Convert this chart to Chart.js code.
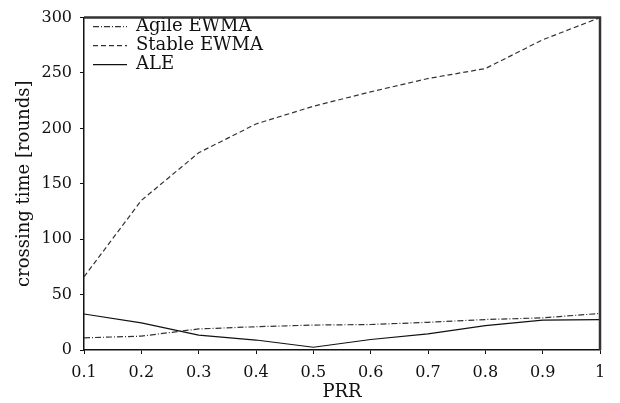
<!DOCTYPE html>
<html>
<head>
<meta charset="utf-8">
<script src="https://cdn.jsdelivr.net/npm/chart.js@4.4.0/dist/chart.umd.min.js"></script>
<style>
  body { margin: 0; background: #fff; }
  #wrap { width: 620px; height: 403px; }
</style>
</head>
<body>
<div id="wrap"><canvas id="crossing"></canvas></div>
<script>
const prr = ['0.1', '0.2', '0.3', '0.4', '0.5', '0.6', '0.7', '0.8', '0.9', '1'];
const agileEwma = [11, 12.5, 19, 21, 22.5, 23, 25, 27.5, 29, 33];
const stableEwma = [66, 135, 178, 204, 220, 233, 245, 254, 280, 300];
const ale = [32.5, 24.5, 13.5, 9, 2.5, 9.5, 14.5, 22, 27, 27.5];
const yTicks = [0, 50, 100, 150, 200, 250, 300];

const serif = "'DejaVu Serif', serif";

// top and right edges of the frame
const framePlugin = {
    id: 'frame',
    afterDraw(chart) {
        const { ctx, chartArea: a } = chart;
        ctx.save();
        ctx.strokeStyle = '#333';
        ctx.lineWidth = 2.5;
        ctx.beginPath();
        ctx.moveTo(a.left, a.top);
        ctx.lineTo(a.right, a.top);
        ctx.lineTo(a.right, a.bottom);
        ctx.stroke();
        ctx.restore();
    }
};

// put the legend in the top left corner of the plot
const legendNudge = {
    id: 'legendNudge',
    afterLayout(chart) {
        chart.legend.left = chart.chartArea.left + 8;
        chart.legend.top = chart.chartArea.top - 1;
    }
};

function line(label, data, dash, color) {
    return {
        label: label,
        data: data,
        borderColor: color,
        backgroundColor: color,
        borderWidth: 1.2,
        borderDash: dash,
        pointRadius: 0,
        tension: 0,
        fill: false
    };
}

const ctx = document.getElementById('crossing').getContext('2d');
new Chart(ctx, {
    type: 'line',
    data: {
        labels: prr,
        datasets: [
            line('Agile EWMA', agileEwma, [6, 2, 1, 2], '#333'),
            line('Stable EWMA', stableEwma, [5, 3], '#333'),
            line('ALE', ale, [], '#111')
        ]
    },
    options: {
        responsive: true,
        maintainAspectRatio: false,
        animation: false,
        layout: { padding: { top: 13, right: 20, left: 0, bottom: 0 } },
        plugins: {
            tooltip: { enabled: false },
            legend: {
                position: 'chartArea',
                align: 'start',
                labels: {
                    usePointStyle: true,
                    pointStyle: 'line',
                    pointStyleWidth: 34,
                    boxHeight: 18,
                    padding: 1,
                    color: '#111',
                    font: { family: serif, size: 18 },
                    generateLabels(chart) {
                        const items = Chart.defaults.plugins.legend.labels.generateLabels(chart);
                        items.forEach((it, i) => {
                            const ds = chart.data.datasets[i];
                            it.lineDash = ds.borderDash;
                            it.strokeStyle = ds.borderColor;
                            it.lineWidth = ds.borderWidth;
                        });
                        return items;
                    }
                }
            }
        },
        scales: {
            x: {
                type: 'category',
                offset: false,
                afterFit: s => { s.height = 53; },
                border: { display: true, color: '#111', width: 1.5 },
                grid: { drawOnChartArea: false, drawTicks: true, tickLength: 4, color: '#111', offset: false },
                ticks: { color: '#111', padding: 9, maxRotation: 0, font: { family: serif, size: 16 } },
                title: { display: true, text: 'PRR', color: '#111', padding: { top: 0, bottom: 0 }, font: { family: serif, size: 18 } }
            },
            y: {
                min: 0,
                max: 300,
                afterFit: s => { s.width = 84; },
                afterBuildTicks: s => { s.ticks = yTicks.map(v => ({ value: v })); },
                border: { display: true, color: '#111', width: 1.5 },
                grid: { drawOnChartArea: false, drawTicks: true, tickLength: 4, color: '#111' },
                ticks: { color: '#111', padding: 8, font: { family: serif, size: 16 } },
                title: { display: true, text: 'crossing time [rounds]', color: '#111', padding: { top: 14, bottom: 0 }, font: { family: serif, size: 18 } }
            }
        }
    },
    plugins: [framePlugin, legendNudge]
});
</script>
</body>
</html>
